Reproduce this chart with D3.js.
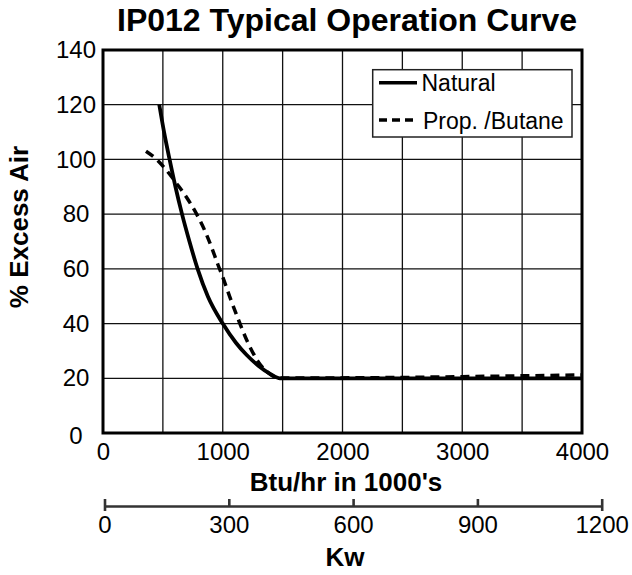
<!DOCTYPE html>
<html><head><meta charset="utf-8">
<script src="https://cdn.jsdelivr.net/npm/d3@7"></script>
<style>body{margin:0;background:#fff}svg{display:block}text{font-family:"Liberation Sans",Arial,sans-serif;fill:#000}</style>
</head><body>
<script>
const titleText = "IP012 Typical Operation Curve";
const xTicks = [0, 1000, 2000, 3000, 4000];
const yTicks = [0, 20, 40, 60, 80, 100, 120, 140];
const kwTicks = [0, 300, 600, 900, 1200];
const natural = [[470,120],[510,110],[556,100],[605,90],[660,80],[722,70],[790,60],[875,50],[1000,40],[1110,33],[1200,28.5],[1300,24.5],[1400,21.5],[1478,20],[2500,20],[4000,20]];
const propane = [[359,103],[448,100],[540,95.5],[615,91.2],[700,86],[782,80],[850,74],[910,67.5],[960,61.5],[1000,57],[1061,49.5],[1130,41.5],[1200,34],[1297,26],[1380,22],[1450,20.3],[1500,20.1],[2500,20.3],[3000,20.6],[4000,21.2]];
const seriesNames = ["Natural", "Prop. /Butane"];

const W = 632, H = 575;
const L = 103, R = 582, T = 50, B = 433;
const svg = d3.select("body").append("svg").attr("width", W).attr("height", H);
const x = d3.scaleLinear().domain([0, 4000]).range([L, R]);
const y = d3.scaleLinear().domain([0, 140]).range([B, T]);
const kw = d3.scaleLinear().domain([0, 1200]).range([104.5, 601.7]);

// grid
svg.append("g").selectAll("line").data(d3.range(500, 4000, 500)).join("line")
  .attr("x1", d => x(d)).attr("x2", d => x(d)).attr("y1", T).attr("y2", B)
  .attr("stroke", "#111").attr("stroke-width", 1.3);
svg.append("g").selectAll("line").data(d3.range(20, 140, 20)).join("line")
  .attr("y1", d => y(d)).attr("y2", d => y(d)).attr("x1", L).attr("x2", R)
  .attr("stroke", "#111").attr("stroke-width", 1.3);

const line = d3.line().x(d => x(d[0])).y(d => y(d[1])).curve(d3.curveMonotoneX);
svg.append("path").datum(propane).attr("d", line).attr("fill", "none")
  .attr("stroke", "#000").attr("stroke-width", 3.5).attr("stroke-dasharray", "9,6");
svg.append("path").datum(natural).attr("d", line).attr("fill", "none")
  .attr("stroke", "#000").attr("stroke-width", 3.8);

// frame
svg.append("rect").attr("x", L).attr("y", T).attr("width", R - L).attr("height", B - T)
  .attr("fill", "none").attr("stroke", "#000").attr("stroke-width", 3);

// x axis labels
const xa = svg.append("g").attr("transform", `translate(0,${B})`)
  .call(d3.axisBottom(x).tickValues(xTicks).tickSize(0).tickPadding(0).tickFormat(d3.format("d")));
xa.select(".domain").remove();
xa.selectAll("text").attr("font-size", 24).attr("font-family", "Liberation Sans").attr("dy", null).attr("y", 27);

// y axis labels (centered at x=76)
const ya = svg.append("g").attr("transform", `translate(${L},0)`)
  .call(d3.axisLeft(y).tickValues(yTicks).tickSize(0).tickPadding(0));
ya.select(".domain").remove();
ya.selectAll("text").attr("font-size", 24).attr("font-family", "Liberation Sans")
  .attr("text-anchor", "middle").attr("x", 76 - L);
ya.selectAll(".tick").filter(d => d === 0).select("text").attr("dy", "0.45em");

svg.append("text").attr("x", 346).attr("y", 491).attr("text-anchor", "middle")
  .attr("font-size", 26).attr("font-weight", "bold").text("Btu/hr in 1000's");

// kw axis
const ka = svg.append("g").attr("transform", `translate(0,506)`)
  .call(d3.axisBottom(kw).tickValues(kwTicks).tickSize(0).tickPadding(0).tickFormat(d3.format("d")));
ka.select(".domain").attr("stroke", "#333").attr("stroke-width", 2.6);
ka.selectAll("text").attr("font-size", 24).attr("font-family", "Liberation Sans").attr("dy", null).attr("y", 27);
ka.selectAll(".tick").append("line").attr("y1", -7)
  .attr("y2", d => (d === 0 || d === 1200) ? 5 : 0).attr("stroke", "#333").attr("stroke-width", 2.6);

svg.append("text").attr("x", 345).attr("y", 566).attr("text-anchor", "middle")
  .attr("font-size", 26).attr("font-weight", "bold").text("Kw");

svg.append("text").attr("transform", `translate(28,227) rotate(-90)`)
  .attr("text-anchor", "middle").attr("font-size", 26).attr("font-weight", "bold").text("% Excess Air");

svg.append("text").attr("x", 347).attr("y", 31).attr("text-anchor", "middle")
  .attr("font-size", 32).attr("font-weight", "bold").text(titleText);

// legend
const lg = svg.append("g");
lg.append("rect").attr("x", 372.7).attr("y", 69.7).attr("width", 199.3).attr("height", 67.3)
  .attr("fill", "#fff").attr("stroke", "#222").attr("stroke-width", 1.5);
const lgY = [82.7, 120];
seriesNames.forEach((n, i) => {
  const yy = lgY[i];
  lg.append("line").attr("x1", 379).attr("x2", i ? 413 : 417).attr("y1", yy).attr("y2", yy)
    .attr("stroke", "#000").attr("stroke-width", 3.5).attr("stroke-dasharray", i ? "8,5" : null);
  lg.append("text").attr("x", i ? 423 : 421.5).attr("y", yy + 8.5).attr("font-size", 23).text(n);
});
</script>
</body></html>
